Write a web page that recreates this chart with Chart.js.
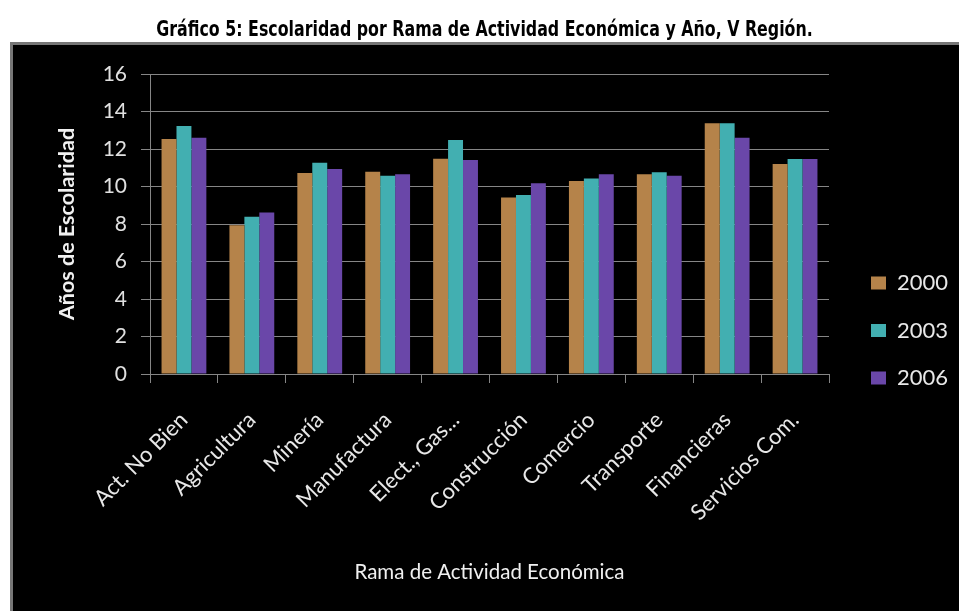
<!DOCTYPE html>
<html>
<head>
<meta charset="utf-8">
<script src="https://cdn.jsdelivr.net/npm/chart.js@4.4.1/dist/chart.umd.min.js"></script>
<style>
  html, body { margin: 0; padding: 0; background: #ffffff; }
  #wrap { width: 959px; height: 611px; position: relative; }
</style>
</head>
<body>
<div id="wrap"><canvas id="c" width="959" height="611"></canvas></div>
<script>
const categories = ['Act. No Bien', 'Agricultura', 'Minería', 'Manufactura', 'Elect., Gas...', 'Construcción', 'Comercio', 'Transporte', 'Financieras', 'Servicios Com.'];
const seriesNames = ['2000', '2003', '2006'];
const values2000 = [12.53, 7.93, 10.72, 10.79, 11.48, 9.42, 10.29, 10.65, 13.37, 11.20];
const values2003 = [13.23, 8.39, 11.27, 10.58, 12.48, 9.55, 10.43, 10.76, 13.37, 11.47];
const values2006 = [12.60, 8.62, 10.93, 10.65, 11.41, 10.17, 10.65, 10.58, 12.60, 11.47];
const seriesColors = ['#B5834A', '#42AFB1', '#6A47A9'];
const titleText = 'Gráfico 5: Escolaridad por Rama de Actividad Económica y Año, V Región.';
const yTitle = 'Años de Escolaridad';
const xTitle = 'Rama de Actividad Económica';

const FONT = "Lato, 'Open Sans', sans-serif";
const LEGEND_PAD = 25.5;
const LEGEND_FONT = 22;
const TITLE_SCALE_X = 0.838;

const framePlugin = {
  id: 'frame',
  beforeDraw(chart) {
    const ctx = chart.ctx;
    ctx.save();
    ctx.fillStyle = '#ffffff';
    ctx.fillRect(0, 0, chart.width, chart.height);
    ctx.fillStyle = '#767676';
    ctx.fillRect(10, 42, chart.width - 10, chart.height - 42);
    ctx.fillStyle = '#000000';
    ctx.fillRect(13, 45, chart.width - 13, chart.height - 45);
    ctx.restore();
  },
  afterLayout(chart) {
    const lg = chart.legend;
    if (lg) {
      const w = lg.width, h = lg.height;
      lg.left = 871 - LEGEND_PAD;
      lg.right = lg.left + w;
      lg.top = 283 - LEGEND_FONT / 2 - LEGEND_PAD;
      lg.bottom = lg.top + h;
    }
    const tb = chart.titleBlock;
    if (tb && !tb._narrowed) {
      const orig = tb.draw.bind(tb);
      tb.draw = function () {
        const ctx = this.ctx;
        const cx = (this.left + this.right) / 2;
        ctx.save();
        ctx.translate(cx, 0);
        ctx.scale(TITLE_SCALE_X, 1);
        ctx.translate(-cx, 0);
        orig();
        ctx.restore();
      };
      tb._narrowed = true;
    }
  }
};

const datasets = [values2000, values2003, values2006].map((vals, i) => ({
  label: seriesNames[i],
  data: vals,
  backgroundColor: seriesColors[i],
  borderWidth: 0,
  categoryPercentage: 0.66,
  barPercentage: 1.0
}));

new Chart(document.getElementById('c'), {
  type: 'bar',
  data: { labels: categories, datasets },
  plugins: [framePlugin],
  options: {
    responsive: false,
    animation: false,
    devicePixelRatio: 1,
    layout: { padding: { left: 10, right: 0, top: 0, bottom: 0 } },
    plugins: {
      title: {
        display: true,
        text: titleText,
        color: '#000000',
        font: { family: "'Liberation Sans Narrow', 'Arial Narrow', 'DejaVu Sans Condensed', sans-serif", size: 21, weight: 'bold' },
        padding: { top: 18.4, bottom: 30.4 }
      },
      legend: {
        display: true,
        position: 'right',
        align: 'start',
        labels: {
          color: '#e8e8e8',
          font: { family: FONT, size: LEGEND_FONT },
          boxWidth: 15,
          boxHeight: 13,
          padding: LEGEND_PAD
        }
      },
      tooltip: { enabled: false }
    },
    scales: {
      x: {
        offset: true,
        afterFit(s) { s.height = 237; s.paddingRight = 130; },
        grid: {
          offset: true,
          drawOnChartArea: false,
          drawTicks: true,
          tickLength: 9,
          color: '#868686'
        },
        border: { display: true, color: '#868686', width: 1 },
        ticks: {
          autoSkip: false,
          minRotation: 45,
          maxRotation: 45,
          color: '#e8e8e8',
          font: { family: FONT, size: 22 },
          padding: 24
        },
        title: {
          display: true,
          text: xTitle,
          color: '#f0f0f0',
          font: { family: FONT, size: 20.5 },
          padding: { top: 0, bottom: 26.7 }
        }
      },
      y: {
        min: 0,
        max: 16,
        afterFit(s) { s.width = 140; },
        ticks: {
          stepSize: 2,
          color: '#e0e0e0',
          font: { family: FONT, size: 21 },
          padding: 14
        },
        grid: {
          color: '#868686',
          drawTicks: true,
          tickLength: 9
        },
        border: { display: true, color: '#868686', width: 1 },
        title: {
          display: true,
          text: yTitle,
          color: '#f0f0f0',
          font: { family: FONT, size: 21.5, weight: 'bold' },
          padding: { top: 44.1, bottom: 0 }
        }
      }
    }
  }
});
</script>
</body>
</html>
